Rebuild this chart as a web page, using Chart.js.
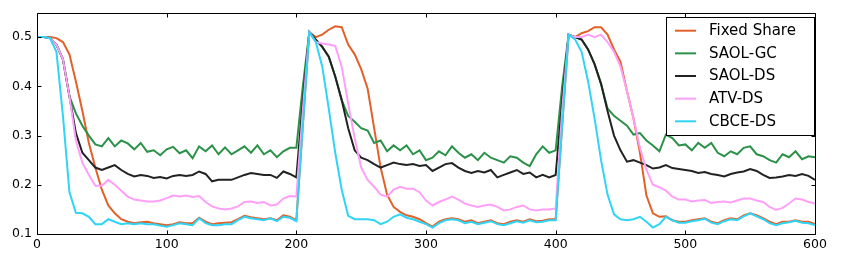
<!DOCTYPE html>
<html>
<head>
<meta charset="utf-8">
<script src="https://cdn.jsdelivr.net/npm/chart.js@4/dist/chart.umd.min.js"></script>
<style>
  html, body { margin: 0; padding: 0; background: #fff; }
  #wrap { width: 841px; height: 261px; }
</style>
</head>
<body>
<div id="wrap"><canvas id="c" width="841" height="261"></canvas></div>
<script>
// time steps (every 5 rounds, 0..600)
const steps = Array.from({ length: 121 }, (_, i) => i * 5);

const seriesNames = ["Fixed Share", "SAOL-GC", "SAOL-DS", "ATV-DS", "CBCE-DS"];

const fixedShare = [
  0.5,0.5,0.5,0.498,0.49,0.465,0.41,0.35,0.285,0.235,0.19,0.158,0.142,0.13,0.125,0.122,0.124,0.125,0.122,0.12,0.118,
  0.12,0.124,0.122,0.122,0.133,0.125,0.12,0.122,0.123,0.124,0.13,0.137,0.134,0.132,0.13,0.132,0.128,0.138,0.135,0.128,
  0.32,0.51,0.5,0.505,0.515,0.522,0.52,0.485,0.465,0.435,0.395,0.315,0.235,0.18,0.155,0.145,0.138,0.135,0.13,0.122,
  0.115,0.125,0.13,0.132,0.13,0.125,0.128,0.122,0.125,0.128,0.122,0.12,0.125,0.128,0.125,0.13,0.126,0.127,0.13,0.13,
  0.32,0.505,0.5,0.508,0.512,0.52,0.52,0.505,0.475,0.45,0.39,0.335,0.265,0.178,0.142,0.135,0.136,0.128,0.125,0.125,
  0.128,0.13,0.132,0.125,0.122,0.128,0.132,0.13,0.138,0.142,0.138,0.132,0.125,0.12,0.125,0.125,0.128,0.125,0.125,0.12
];

const saolGC = [
  0.5,0.5,0.498,0.485,0.455,0.38,0.345,0.32,0.3,0.282,0.278,0.295,0.278,0.29,0.284,0.272,0.285,0.267,0.27,0.26,0.272,
  0.277,0.264,0.27,0.254,0.278,0.268,0.28,0.262,0.276,0.262,0.27,0.278,0.265,0.28,0.262,0.27,0.256,0.268,0.275,0.275,
  0.40,0.51,0.495,0.48,0.46,0.42,0.372,0.34,0.328,0.315,0.31,0.285,0.29,0.268,0.28,0.27,0.28,0.262,0.27,0.25,
  0.255,0.268,0.26,0.278,0.265,0.255,0.262,0.25,0.265,0.255,0.25,0.245,0.258,0.255,0.245,0.238,0.262,0.278,0.265,0.27,
  0.40,0.505,0.5,0.495,0.475,0.445,0.405,0.355,0.34,0.33,0.32,0.302,0.305,0.29,0.28,0.268,0.302,0.295,0.28,0.282,
  0.27,0.285,0.275,0.285,0.265,0.258,0.268,0.262,0.275,0.278,0.262,0.258,0.25,0.245,0.262,0.256,0.268,0.252,0.258,0.256
];

const saolDS = [
  0.5,0.5,0.498,0.485,0.455,0.38,0.305,0.265,0.25,0.235,0.23,0.235,0.24,0.23,0.222,0.217,0.22,0.218,0.214,0.216,0.213,
  0.218,0.22,0.218,0.22,0.227,0.222,0.207,0.21,0.21,0.21,0.215,0.22,0.224,0.222,0.22,0.22,0.214,0.227,0.222,0.215,
  0.37,0.51,0.495,0.48,0.46,0.42,0.372,0.315,0.27,0.255,0.25,0.242,0.235,0.24,0.245,0.242,0.24,0.242,0.238,0.24,
  0.228,0.235,0.242,0.244,0.235,0.228,0.224,0.228,0.225,0.23,0.215,0.22,0.225,0.23,0.222,0.225,0.215,0.22,0.215,0.22,
  0.37,0.505,0.5,0.495,0.475,0.445,0.405,0.35,0.3,0.27,0.247,0.25,0.245,0.24,0.233,0.235,0.24,0.234,0.232,0.23,
  0.228,0.224,0.226,0.222,0.22,0.217,0.222,0.225,0.227,0.232,0.228,0.22,0.214,0.215,0.217,0.22,0.218,0.222,0.218,0.21
];

const atvDS = [
  0.5,0.5,0.498,0.485,0.455,0.38,0.29,0.245,0.22,0.198,0.198,0.21,0.2,0.188,0.176,0.17,0.168,0.166,0.166,0.168,0.173,
  0.178,0.176,0.178,0.175,0.177,0.165,0.156,0.152,0.15,0.152,0.156,0.165,0.166,0.163,0.165,0.158,0.16,0.172,0.177,0.176,
  0.35,0.51,0.49,0.487,0.485,0.482,0.44,0.365,0.295,0.235,0.21,0.196,0.18,0.176,0.19,0.196,0.192,0.192,0.185,0.168,
  0.158,0.165,0.17,0.176,0.17,0.162,0.158,0.155,0.158,0.16,0.155,0.148,0.15,0.155,0.158,0.15,0.148,0.15,0.15,0.152,
  0.35,0.505,0.5,0.5,0.505,0.5,0.505,0.49,0.47,0.44,0.39,0.335,0.275,0.23,0.2,0.195,0.188,0.176,0.17,0.17,
  0.166,0.168,0.169,0.163,0.165,0.166,0.164,0.168,0.172,0.172,0.168,0.165,0.155,0.149,0.153,0.162,0.172,0.17,0.165,0.162
];

const cbceDS = [
  0.5,0.5,0.498,0.47,0.34,0.185,0.143,0.142,0.135,0.12,0.12,0.13,0.125,0.12,0.122,0.12,0.122,0.12,0.12,0.117,0.115,
  0.118,0.122,0.12,0.118,0.132,0.122,0.118,0.118,0.12,0.12,0.128,0.135,0.132,0.13,0.128,0.132,0.126,0.135,0.133,0.126,
  0.32,0.51,0.49,0.44,0.355,0.265,0.19,0.137,0.13,0.13,0.13,0.128,0.12,0.125,0.135,0.14,0.133,0.13,0.125,0.12,
  0.113,0.122,0.128,0.13,0.128,0.122,0.125,0.12,0.123,0.126,0.12,0.118,0.122,0.126,0.123,0.128,0.124,0.125,0.128,0.128,
  0.32,0.505,0.495,0.47,0.41,0.335,0.25,0.18,0.14,0.13,0.128,0.13,0.135,0.125,0.113,0.12,0.135,0.128,0.123,0.123,
  0.126,0.128,0.131,0.123,0.12,0.126,0.13,0.128,0.136,0.142,0.136,0.13,0.122,0.118,0.122,0.124,0.127,0.123,0.122,0.118
];

const xTicks = [0, 100, 200, 300, 400, 500, 600];
const xTickLabels = ["0", "100", "200", "300", "400", "500", "600"];
const yTicks = [0.1, 0.2, 0.3, 0.4, 0.5];
const yTickLabels = ["0.1", "0.2", "0.3", "0.4", "0.5"];

const colors = ["#e2612a", "#2b9149", "#222222", "#ffa0f8", "#30d4f5"];
const allSeries = [fixedShare, saolGC, saolDS, atvDS, cbceDS];

const datasets = allSeries.map((vals, k) => ({
  label: seriesNames[k],
  data: vals.map((v, i) => ({ x: steps[i], y: v })),
  borderColor: colors[k],
  backgroundColor: colors[k],
  borderWidth: 2,
  pointRadius: 0,
  tension: 0,
  fill: false,
  order: allSeries.length - k   // later series drawn on top (like the original)
}));

const FONT = '"DejaVu Sans", "Liberation Sans", sans-serif';

const framePlugin = {
  id: 'frameAndTicks',
  afterDatasetsDraw(chart) {
    const { ctx, chartArea: a, scales } = chart;
    ctx.save();
    ctx.strokeStyle = '#000';
    ctx.lineWidth = 1;
    const L = Math.round(a.left) + 0.5, R = Math.round(a.right) + 0.5;
    const T = Math.round(a.top) + 0.5, B = Math.round(a.bottom) + 0.5;
    ctx.beginPath();
    ctx.rect(L, T, R - L, B - T);
    ctx.stroke();
    const tl = 4;
    ctx.beginPath();
    xTicks.forEach(v => {
      const px = Math.round(scales.x.getPixelForValue(v)) + 0.5;
      ctx.moveTo(px, B); ctx.lineTo(px, B - tl);
      ctx.moveTo(px, T); ctx.lineTo(px, T + tl);
    });
    yTicks.forEach(v => {
      const py = Math.round(scales.y.getPixelForValue(v)) + 0.5;
      ctx.moveTo(L, py); ctx.lineTo(L + tl, py);
      ctx.moveTo(R, py); ctx.lineTo(R - tl, py);
    });
    ctx.stroke();
    ctx.restore();
  },
  afterDraw(chart) {
    const { ctx } = chart;
    ctx.save();
    const bx = 666.5, by = 17.5, bw = 148, bh = 118;
    ctx.fillStyle = '#fff';
    ctx.fillRect(bx, by, bw, bh);
    ctx.strokeStyle = '#000';
    ctx.lineWidth = 1;
    ctx.strokeRect(bx, by, bw, bh);
    ctx.font = '15px ' + FONT;
    ctx.textBaseline = 'middle';
    ctx.textAlign = 'left';
    chart.data.datasets.forEach((ds, i) => {
      const y = 30.7 + i * 22.65;
      ctx.strokeStyle = ds.borderColor;
      ctx.lineWidth = 2;
      ctx.beginPath();
      ctx.moveTo(675, y); ctx.lineTo(696, y);
      ctx.stroke();
      ctx.fillStyle = '#000';
      ctx.fillText(ds.label, 709, y + 0.5);
    });
    ctx.restore();
  }
};

new Chart(document.getElementById('c'), {
  type: 'line',
  data: { datasets },
  options: {
    responsive: false,
    animation: false,
    devicePixelRatio: 1,
    layout: { padding: { top: 12, right: 26, left: 0, bottom: 0 } },
    plugins: { legend: { display: false }, tooltip: { enabled: false } },
    scales: {
      x: {
        type: 'linear',
        min: 0, max: 600,
        grid: { display: false, drawTicks: false },
        border: { display: false },
        afterBuildTicks: s => { s.ticks = xTicks.map(v => ({ value: v })); },
        afterFit: s => { s.height = 27; },
        ticks: {
          padding: 3,
          color: '#000',
          maxRotation: 0,
          autoSkip: false,
          font: { family: FONT, size: 12.5 },
          callback: (v) => { const i = xTicks.indexOf(v); return i >= 0 ? xTickLabels[i] : ''; }
        }
      },
      y: {
        type: 'linear',
        min: 0.1, max: 0.55,
        grid: { display: false, drawTicks: false },
        border: { display: false },
        afterBuildTicks: s => { s.ticks = yTicks.map(v => ({ value: v })); },
        afterFit: s => { s.width = 37; },
        ticks: {
          padding: 5,
          color: '#000',
          autoSkip: false,
          font: { family: FONT, size: 12.5 },
          callback: (v) => { const i = yTicks.findIndex(t => Math.abs(t - v) < 1e-9); return i >= 0 ? yTickLabels[i] : ''; }
        }
      }
    }
  },
  plugins: [framePlugin]
});
</script>
</body>
</html>
